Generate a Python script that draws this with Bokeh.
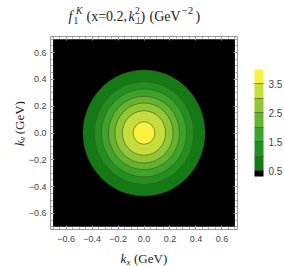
from math import pi
from bokeh.plotting import figure
from bokeh.layouts import column, row
from bokeh.core.properties import value
from bokeh.models import (ColorBar, LinearColorMapper, FixedTicker, LinearAxis,
                          Range1d, ColumnDataSource)
from bokeh.embed import file_html
from bokeh.resources import INLINE

# ---- data ----
levels = [0.5, 1.0, 1.5, 2.0, 2.5, 3.0, 3.5]                 # contour levels
radii = [0.470, 0.383, 0.328, 0.274, 0.224, 0.166, 0.084]    # GeV, radius of each level contour
band_colors = ["#000000", "#137a15", "#22901f", "#3ca42c", "#64b42e",
               "#90c736", "#c6de3c", "#faf23e"]              # below 0.5 ... above 3.5
cbar_low, cbar_high = 0.3, 4.0
k_min, k_max = -0.7, 0.7
axis_lo, axis_hi = -0.72, 0.72
tick_vals = [-0.6, -0.4, -0.2, 0.0, 0.2, 0.4, 0.6]
tick_labels = ["\u22120.6", "\u22120.4", "\u22120.2", "0.0", "0.2", "0.4", "0.6"]
cbar_labels = ["0.5", "", "1.5", "", "2.5", "", "3.5"]

W, H = 284, 266
TOP_H, BOT_H, LEFT_W = 28, 16, 25
MID_H = H - TOP_H - BOT_H
FL, FT, FR, FB = 47, 36, 237, 229      # frame edges in page pixels

def blank_fig(w, h):
    f = figure(width=w, height=h, output_backend="svg", toolbar_location=None, title=None,
               x_range=Range1d(0, w), y_range=Range1d(0, h),
               min_border=0, x_axis_location=None, y_axis_location=None)
    f.grid.visible = False
    f.outline_line_color = None
    f.background_fill_color = "white"
    f.border_fill_color = "white"
    return f

top = blank_fig(W, TOP_H)
bot = blank_fig(W, BOT_H)
left = blank_fig(LEFT_W, MID_H)

def txt(f, ox, oy, h, s, px, py, size, italic=False, angle=0.0):
    # page pixel position -> local coordinates of the helper figure
    f.text(x=[px - ox], y=[h - (py - oy)], text=[s], text_font=value("Liberation Serif"),
           text_font_size=size, text_font_style="italic" if italic else "normal",
           text_color="#222222", text_align="left", text_baseline="alphabetic", angle=angle)

def t_top(*a, **k):
    txt(top, 0, 0, TOP_H, *a, **k)
def t_bot(*a, **k):
    txt(bot, 0, TOP_H + MID_H, BOT_H, *a, **k)
def t_left(*a, **k):
    txt(left, 0, TOP_H, MID_H, *a, **k)

# title  f_1^K(x=0.2, k_perp^2) (GeV^-2)
t_top("f", 68, 16, "14px", True)
t_top("1", 73, 20, "9.5px")
t_top("K", 75.5, 10, "9.5px", True)
t_top("(x=0.2,", 86, 16, "14px")
t_top("k", 128, 16, "14px", True)
t_top("\u22a5", 133.5, 20, "9.5px")
t_top("2", 134.5, 10, "9.5px")
t_top(")", 140, 16, "14px")
t_top("(GeV", 149, 16, "14px")
t_top("\u22122", 181.5, 10, "10.5px")
t_top(")", 195, 16, "14px")

# x label
t_bot("k", 120, 258, "13px", True)
t_bot("x", 126, 261, "9px", True)
t_bot("(GeV)", 133.5, 258, "13px")

# y label (rotated)
t_left("k", 18.5, 154, "13px", True, pi / 2)
t_left("y", 21, 148, "9px", True, pi / 2)
t_left("(GeV)", 18.5, 140.5, "13px", False, pi / 2)

# ---- main plot ----
MW = W - LEFT_W
p = figure(width=MW, height=MID_H, output_backend="svg", toolbar_location=None, title=None,
           x_range=Range1d(axis_lo, axis_hi), y_range=Range1d(axis_lo, axis_hi),
           min_border_left=FL - LEFT_W, min_border_right=W - FR, min_border_top=FT - TOP_H,
           min_border_bottom=TOP_H + MID_H - FB, x_axis_location=None, y_axis_location=None)
p.grid.visible = False
p.outline_line_color = None
p.background_fill_color = "white"
p.border_fill_color = "white"

p.quad(left=[k_min], right=[k_max], bottom=[k_min], top=[k_max],
       fill_color=band_colors[0], line_color=None)

src = ColumnDataSource(dict(x=[0.0] * len(radii), y=[0.0] * len(radii),
                            w=[2 * r for r in radii], h=[2 * r for r in radii],
                            c=band_colors[1:]))
p.ellipse(x="x", y="y", width="w", height="h", fill_color="c", source=src,
          line_color="#4a4a20", line_alpha=0.75, line_width=0.8)

minor = [round(-0.7 + 0.05 * i, 2) for i in range(29)]
def make_axis(show_labels):
    ax = LinearAxis(ticker=FixedTicker(ticks=tick_vals, minor_ticks=minor),
                    major_tick_in=4, major_tick_out=0, minor_tick_in=2, minor_tick_out=0,
                    axis_line_color="#9a9a9a", major_tick_line_color="#9a9a9a",
                    minor_tick_line_color="#9a9a9a",
                    major_label_text_font="Liberation Sans", major_label_text_font_size="9px",
                    major_label_text_color="#444444", major_label_standoff=5)
    if show_labels:
        ax.major_label_overrides = {v: s for v, s in zip(tick_vals, tick_labels)}
    else:
        ax.major_label_text_alpha = 0
        ax.major_label_text_font_size = "1px"
        ax.major_label_standoff = 0
    return ax

bx = make_axis(True)
bx.major_label_standoff = 6
ly = make_axis(True)
ly.major_label_standoff = 4
p.add_layout(bx, "below")
p.add_layout(ly, "left")
p.add_layout(make_axis(False), "above")
p.add_layout(make_axis(False), "right")

pal = []
steps = int(round((cbar_high - cbar_low) / 0.1))
for i in range(steps):
    v = cbar_low + 0.1 * i + 0.05
    idx = sum(1 for L in levels if v > L)
    pal.append(band_colors[idx])
mapper = LinearColorMapper(palette=pal, low=cbar_low, high=cbar_high)
cb = ColorBar(color_mapper=mapper, ticker=FixedTicker(ticks=levels),
              major_label_overrides={v: s for v, s in zip(levels, cbar_labels)},
              width=9, height=107, padding=0, margin=0, location=(251 - FL, FB - 176),
              major_tick_in=9, major_tick_out=0, major_tick_line_color="#4a4a20",
              major_tick_line_alpha=0.75, major_tick_line_width=0.8,
              major_label_text_font="Liberation Sans", major_label_text_font_size="10px",
              major_label_text_color="#444444", label_standoff=5,
              background_fill_alpha=0, bar_line_color=None, border_line_color=None)
p.add_layout(cb)

layout = column(top, row(left, p, spacing=0), bot, spacing=0)
open("out.html", "w").write(file_html(layout, INLINE))
